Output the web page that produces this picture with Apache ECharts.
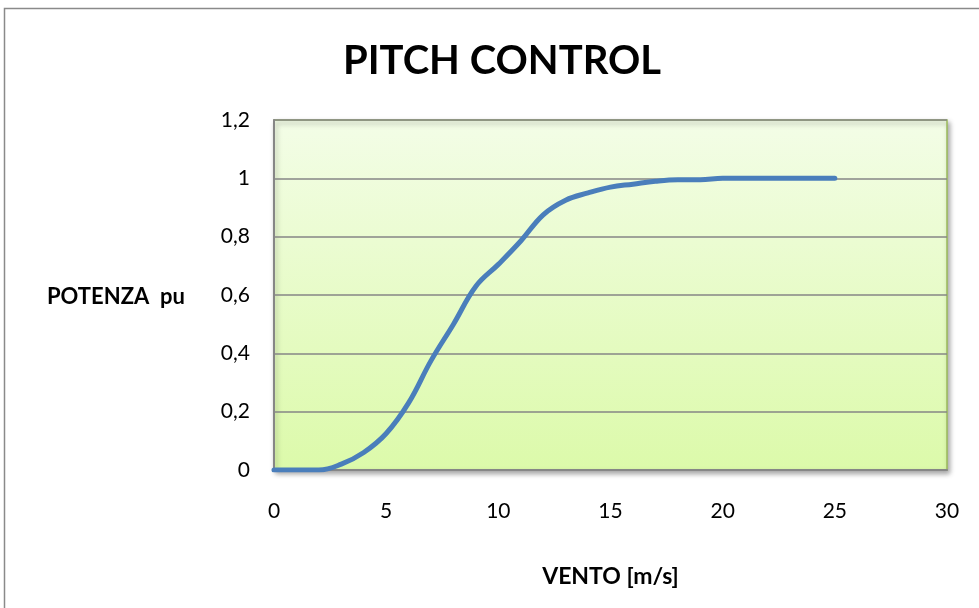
<!DOCTYPE html>
<html>
<head>
<meta charset="utf-8">
<script src="https://cdn.jsdelivr.net/npm/echarts@6/dist/echarts.min.js"></script>
<style>
  html, body { margin: 0; padding: 0; background: #ffffff; }
  #chart { width: 979px; height: 608px; }
</style>
</head>
<body>
<div id="chart"></div>
<script>
// Wind speed (m/s) and per-unit power of a pitch-controlled turbine
const windSpeed = [0, 1, 2, 3, 4, 5, 6, 7, 8, 9, 10, 11, 12, 13, 14, 15, 16, 17, 18, 19, 20, 21, 22, 23, 24, 25];
const powerPu = [0, 0, 0, 0.02, 0.06, 0.125, 0.23, 0.375, 0.5, 0.63, 0.705, 0.785, 0.875, 0.925, 0.95, 0.97, 0.98, 0.99, 0.995, 0.995, 1, 1, 1, 1, 1, 1];
const xTicks = [0, 5, 10, 15, 20, 25, 30];
const yTicks = [0, 0.2, 0.4, 0.6, 0.8, 1, 1.2];

const titleText = 'PITCH CONTROL';
const xName = 'VENTO [m/s]';
const yName = 'POTENZA  pu';

const FONT = 'Lato, "Open Sans", sans-serif';

const chart = echarts.init(document.getElementById('chart'), null, { renderer: 'canvas' });

const points = windSpeed.map((v, i) => [v, powerPu[i]]);

chart.setOption({
  animation: false,
  backgroundColor: '#ffffff',
  title: {
    text: titleText,
    left: 338,
    top: 36,
    textStyle: { fontFamily: FONT, fontWeight: 'bold', fontSize: 40, color: '#000000' }
  },
  grid: {
    left: 274,
    right: 32,
    top: 120,
    bottom: 138,
    show: true,
    borderColor: '#9bbb59',
    borderWidth: 1.5,
    backgroundColor: new echarts.graphic.LinearGradient(0, 0, 0, 1, [
      { offset: 0, color: '#f3fde7' },
      { offset: 1, color: '#dcfaaa' }
    ]),
    shadowColor: 'rgba(0,0,0,0.35)',
    shadowBlur: 5,
    shadowOffsetX: 2,
    shadowOffsetY: 3
  },
  xAxis: {
    type: 'value',
    min: xTicks[0],
    max: xTicks[xTicks.length - 1],
    interval: xTicks[1] - xTicks[0],
    name: xName,
    nameLocation: 'middle',
    nameGap: 95,
    nameTextStyle: { fontFamily: FONT, fontWeight: 'bold', fontSize: 23, color: '#000000' },
    axisLine: { show: true, lineStyle: { color: '#868686', width: 2 } },
    axisTick: { show: false },
    splitLine: { show: false },
    axisLabel: {
      margin: 31,
      fontFamily: FONT,
      fontSize: 21,
      color: '#000000',
      formatter: v => String(v)
    }
  },
  yAxis: {
    type: 'value',
    min: yTicks[0],
    max: yTicks[yTicks.length - 1],
    interval: 0.2,
    axisLine: { show: true, lineStyle: { color: '#868686', width: 2 } },
    axisTick: { show: false },
    splitLine: { show: true, lineStyle: { color: '#868686', width: 1.5 } },
    axisLabel: {
      margin: 24,
      fontFamily: FONT,
      fontSize: 21,
      color: '#000000',
      formatter: v => {
        const t = yTicks.find(x => Math.abs(x - v) < 1e-9);
        return (t === undefined ? v : t).toString().replace('.', ',');
      }
    }
  },
  graphic: [
    {
      type: 'rect',
      z: -10,
      shape: { x: 4.5, y: 8.5, width: 1200, height: 800 },
      style: { fill: 'none', stroke: '#8a8a8a', lineWidth: 1.5 },
      silent: true
    },
    {
      type: 'text',
      x: 47,
      y: 297,
      style: {
        text: yName,
        fontFamily: FONT,
        fontWeight: 'bold',
        fontSize: 22,
        fill: '#000000',
        verticalAlign: 'middle'
      }
    }
  ],
  series: [
    {
      type: 'line',
      data: points,
      smooth: 0.4,
      symbol: 'none',
      lineStyle: { color: '#4a7ebb', width: 5, cap: 'round', join: 'round' },
      z: 5
    }
  ]
});
</script>
</body>
</html>
